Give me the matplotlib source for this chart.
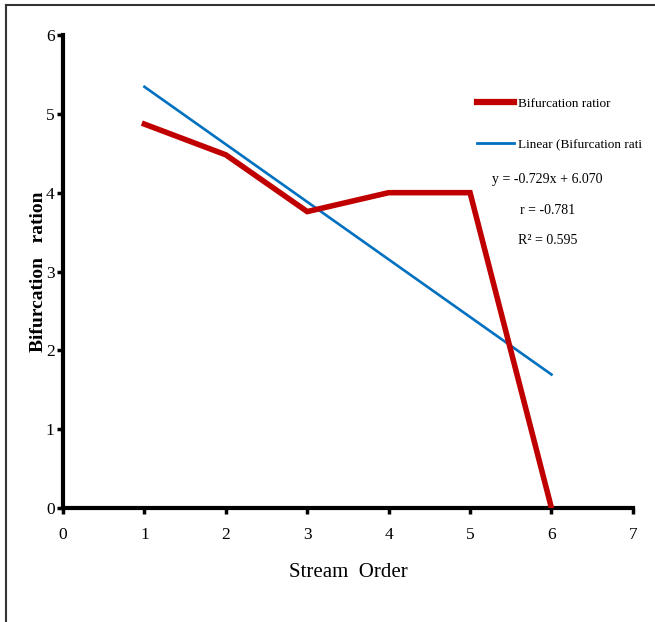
import numpy as np
import matplotlib.pyplot as plt
from matplotlib.lines import Line2D

plt.rcParams['font.family'] = ['Liberation Serif', 'DejaVu Serif']

stream_order = [1, 2, 3, 4, 5, 6]
bif_ratio = [4.87, 4.48, 3.76, 4.0, 4.0, 0.0]
eq_lines = ["y = -0.729x + 6.070", "r = -0.781", "R\u00b2 = 0.595"]

# linear trend
slope, intercept = np.polyfit(stream_order, bif_ratio, 1)
trend = [slope * x + intercept for x in stream_order]

fig = plt.figure(figsize=(6.55, 6.22), dpi=100)
ax = fig.add_axes([0.0962, 0.1833, 0.87, 0.7604])

ax.plot(stream_order, bif_ratio, color='#C00000', lw=4.0,
        solid_joinstyle='miter', zorder=3)
ax.plot(stream_order, trend, color='#0070C0', lw=1.9, zorder=2)

ax.set_xlim(0, 7)
ax.set_ylim(0, 6)
ax.set_xticks(range(0, 8))
ax.set_yticks(range(0, 7))
for s in ['top', 'right']:
    ax.spines[s].set_visible(False)
for s in ['left', 'bottom']:
    ax.spines[s].set_linewidth(3)
ax.tick_params(direction='out', length=4, width=2.5, labelsize=12.5)
ax.tick_params(axis='x', pad=10)
ax.tick_params(axis='y', pad=2)

ax.set_xlabel('Stream  Order', fontsize=15, labelpad=14)
ax.set_ylabel('Bifurcation   ration', fontsize=14, fontweight='bold', labelpad=-1)

handles = [Line2D([], [], color='#C00000', lw=4.5),
           Line2D([], [], color='#0070C0', lw=2.0)]
leg = ax.legend(handles, ['Bifurcation ratior', 'Linear (Bifurcation rati'],
                loc='upper left', bbox_to_anchor=(0.705, 0.893), frameon=False,
                fontsize=9.5, labelspacing=2.2, handlelength=2.8, handletextpad=0.3)

for i, t in enumerate(eq_lines):
    ax.text(5.95, 4.17 - i * 0.39, t, fontsize=10, ha='center', va='center')

# page frame
fig.add_artist(Line2D([0.009, 1.0], [0.992, 0.992], transform=fig.transFigure,
                      color='#333333', lw=1.5))
fig.add_artist(Line2D([0.009, 0.009], [0.0, 0.992], transform=fig.transFigure,
                      color='#333333', lw=1.5))

fig.savefig('out.png', dpi=100)
